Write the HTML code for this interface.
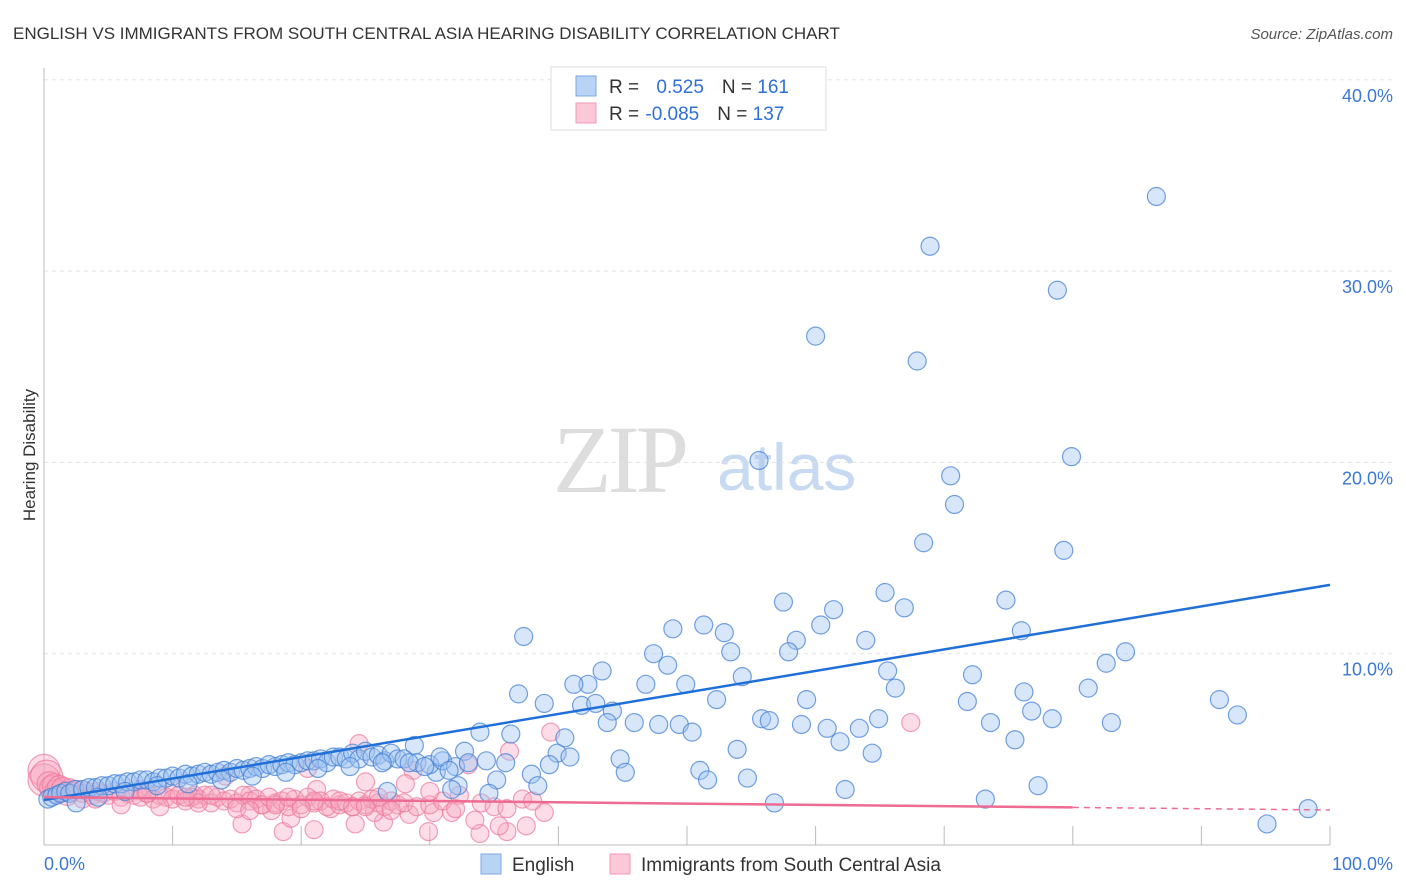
<!DOCTYPE html>
<html><head><meta charset="utf-8">
<style>
body{margin:0;background:#fff;font-family:"Liberation Sans",sans-serif;}
svg{display:block}
</style></head>
<body>
<svg id="chart" width="1406" height="892" xmlns="http://www.w3.org/2000/svg">
<text x="13" y="39" font-size="17" fill="#333">ENGLISH VS IMMIGRANTS FROM SOUTH CENTRAL ASIA HEARING DISABILITY CORRELATION CHART</text>
<text x="1393" y="39" font-size="15" fill="#555" font-style="italic" text-anchor="end">Source: ZipAtlas.com</text>
<g>
<text x="553" y="492" font-size="96" fill="#ddd" font-family="Liberation Serif,serif" letter-spacing="-4">ZIP</text>
<text x="717" y="490" font-size="66" fill="#c8daf2">atlas</text>
</g>
<g id="grid"></g>
<g id="axes"></g>
<g id="pink"></g>
<g id="blue"></g>
<g id="lines"></g>
<text x="35" y="455" font-size="17" fill="#333" transform="rotate(-90 35 455)" text-anchor="middle">Hearing Disability</text>
<g>
<rect x="551" y="67" width="275" height="63" fill="#fff" stroke="#ddd"/>
<rect x="576" y="76" width="20" height="20" fill="#b9d3f5" stroke="#7ba7e3"/>
<rect x="576" y="103" width="20" height="20" fill="#fac8d7" stroke="#f09ab4"/>
<text x="609" y="93" font-size="19" fill="#333">R = <tspan fill="#2f6fd6" dx="12">0.525</tspan><tspan dx="18">N = </tspan><tspan fill="#2f6fd6">161</tspan></text>
<text x="609" y="120" font-size="19" fill="#333">R = <tspan fill="#2f6fd6" dx="1">-0.085</tspan><tspan dx="18">N = </tspan><tspan fill="#2f6fd6">137</tspan></text>
</g>
<g>
<rect x="481" y="854" width="20" height="20" fill="#b9d3f5" stroke="#7ba7e3"/>
<text x="512" y="871" font-size="19" fill="#333">English</text>
<rect x="610" y="854" width="20" height="20" fill="#fac8d7" stroke="#f09ab4"/>
<text x="641" y="871" font-size="19" fill="#333">Immigrants from South Central Asia</text>
</g>
</svg>
<script>
const yTicks=[10,20,30,40];
const yTickLabels=["10.0%","20.0%","30.0%","40.0%"];
const xTicks=[10,20,30,40,50,60,70,80,90,100];
const blueX=[86.5,68.9,78.8,60.0,67.9,55.6,79.9,70.5,70.8,68.4,79.3,37.3,57.5,65.4,74.8,61.4,66.9,48.9,51.3,52.9,60.4,58.5,63.9,76.0,47.4,53.4,57.9,84.1,82.6,43.4,48.5,65.6,72.2,42.3,41.2,46.8,49.9,54.3,66.2,81.2,76.2,36.9,38.9,41.8,42.9,52.3,59.3,71.8,91.4,92.8,44.2,76.8,43.8,45.9,47.8,49.4,55.8,56.4,58.9,64.9,73.6,78.4,83.0,60.9,63.4,50.4,33.9,36.3,40.5,61.9,75.5,53.9,64.4,44.8,39.9,40.9,32.7,28.8,34.4,35.9,39.3,51.0,45.2,37.9,35.2,51.6,54.7,77.3,38.4,32.2,30.5,34.6,31.7,62.3,26.7,56.8,73.2,98.3,95.1,
0.3,0.6,1,1.3,1.7,2,2.4,3,3.5,4,4.5,5,5.5,6,6.5,7,7.5,8,8.5,9,9.5,10,10.5,11,11.5,12,12.5,13,13.5,14,14.5,15,15.5,16,16.5,17,17.5,18,18.5,19,19.5,20,20.5,21,21.5,22,22.5,23,23.5,24,24.5,25,25.5,26,26.5,27,27.5,28,29,30,31,32,33,2.5,4.2,6.3,8.8,11.2,13.8,16.2,18.8,21.3,23.8,26.3,28.4,30.8,29.6,31.5];
const blueY=[33.9,31.3,29.0,26.6,25.3,20.1,20.3,19.3,17.8,15.8,15.4,10.9,12.7,13.2,12.8,12.3,12.4,11.3,11.5,11.1,11.5,10.7,10.7,11.2,10.0,10.1,10.1,10.1,9.5,9.1,9.4,9.1,8.9,8.4,8.4,8.4,8.4,8.8,8.2,8.2,8.0,7.9,7.4,7.3,7.4,7.6,7.6,7.5,7.6,6.8,7.0,7.0,6.4,6.4,6.3,6.3,6.6,6.5,6.3,6.6,6.4,6.6,6.4,6.1,6.1,5.9,5.9,5.8,5.6,5.4,5.5,5.0,4.8,4.5,4.8,4.6,4.9,5.2,4.4,4.3,4.2,3.9,3.8,3.7,3.4,3.4,3.5,3.1,3.1,3.1,3.8,2.7,2.9,2.9,2.8,2.2,2.4,1.9,1.1,
2.4,2.5,2.6,2.7,2.8,2.7,2.9,2.9,3.0,3.0,3.1,3.1,3.2,3.2,3.3,3.3,3.4,3.4,3.3,3.5,3.5,3.6,3.5,3.7,3.6,3.7,3.8,3.7,3.8,3.9,3.8,4.0,3.9,4.0,4.1,4.0,4.2,4.1,4.2,4.3,4.2,4.3,4.4,4.4,4.5,4.3,4.6,4.6,4.5,4.8,4.5,4.9,4.6,4.7,4.4,4.8,4.5,4.5,4.3,4.2,4.4,4.1,4.3,2.2,2.5,2.8,3.1,3.2,3.4,3.6,3.8,4.0,4.1,4.3,4.3,4.6,4.1,3.9];
const pinkX=[24.5,67.4,39.4,36.2,33.0,28.7,20.5,14.1,25.0,28.1,37.2,33.9,36.0,33.5,35.4,37.5,38.9,30.3,29.9,26.4,24.2,21.0,18.6,15.4,19.2,31.7,28.4,25.7,22.3,17.7,16.9,21.2,16.0,11.7,10.1,7.5,32.3,
0,0,0.2,0.4,0.6,0.8,1,1.2,1.5,1.8,2,2.3,2.6,3,3.4,3.8,4.2,4.6,5,5.5,6,6.5,7,7.5,8,8.5,9,9.5,10,10.5,11,11.5,12,12.5,13,13.5,14,14.5,15,15.5,16,16.5,17,17.5,18,18.5,19,19.5,20,20.5,21,21.5,22,22.5,23,23.5,24,24.5,25,25.5,26,26.5,27,27.5,28,29,30,31,32,34,35,36,38,
3,6,9,12,15,18,21,24,27,30,8,13,19,23,26,4,11,16,20,25];
const pinkY=[5.3,6.4,5.9,4.9,4.2,3.9,4.0,3.6,3.3,3.2,2.4,0.6,0.7,1.3,1.0,1.0,1.7,1.7,0.7,1.2,1.1,0.8,0.7,1.1,1.4,1.7,1.6,1.7,1.9,1.8,2.1,2.9,2.6,2.6,2.9,2.9,2.6,
3.9,3.4,3.6,3.2,3.0,3.1,2.8,3.0,2.9,2.7,3.0,2.8,2.9,2.7,2.8,2.6,2.8,2.7,2.6,2.8,2.5,2.7,2.6,2.5,2.7,2.4,2.6,2.5,2.4,2.6,2.3,2.5,2.4,2.6,2.2,2.5,2.3,2.4,2.2,2.6,2.3,2.4,2.1,2.5,2.2,2.3,2.0,2.4,2.1,2.5,2.2,2.3,2.0,2.4,2.1,2.2,2.0,2.3,2.1,2.4,2.2,2.0,2.3,2.1,2.2,2.0,2.1,2.3,1.9,2.2,2.0,1.9,
2.3,2.4,2.1,2.0,2.2,1.9,2.1,2.3,2.0,1.8,2.8,2.7,2.6,2.5,2.3,2.5,2.4,2.5,1.8,1.9,2.0];
const blueTrend=[2.35,13.6];
const pinkTrend=[2.5,1.83];
const pinkSolidEnd=80;

const NS="http://www.w3.org/2000/svg";
const X0=44,X1=1330,Y0=845,PY=19.13;
function sx(v){return X0+(X1-X0)*v/100;}
function sy(v){return Y0-v*PY;}
function mk(t,attrs,parent){const e=document.createElementNS(NS,t);for(const k in attrs)e.setAttribute(k,attrs[k]);parent.appendChild(e);return e;}
const grid=document.getElementById('grid'),axes=document.getElementById('axes');
yTicks.forEach((t,i)=>{
  const l=mk('line',{x1:X0,x2:1393,y1:sy(t),y2:sy(t),stroke:'#e2e2e2','stroke-dasharray':'4,4'},grid);
  
  
  const tx=mk('text',{x:1393,y:sy(t)+22,'font-size':18,fill:'#3b78d8','text-anchor':'end'},axes);
  tx.textContent=yTickLabels[i];
  
  
});
mk('line',{x1:X0,x2:X0,y1:68,y2:Y0,stroke:'#bbb'},axes);
mk('line',{x1:X0,x2:X1,y1:Y0,y2:Y0,stroke:'#bbb'},axes);
xTicks.forEach(t=>{const l=mk('line',{x1:sx(t),x2:sx(t),y1:826,y2:Y0,stroke:'#bbb'},axes);
  
  });
const xl0=mk('text',{x:44,y:870,'font-size':18,fill:'#3b78d8'},axes);xl0.textContent='0.0%';


const xl1=mk('text',{x:1393,y:870,'font-size':18,fill:'#3b78d8','text-anchor':'end'},axes);xl1.textContent='100.0%';


const pg=document.getElementById('pink');
const pn=Math.min(pinkX.length,pinkY.length);
for(let i=0;i<pn;i++){const x=pinkX[i];const r=(x<0.3)?16:(x<2?12:9);
  const c=mk('circle',{cx:sx(x),cy:sy(pinkY[i]),r:r,fill:'rgba(247,165,192,0.38)',stroke:'rgba(236,120,155,0.7)','stroke-width':1.2},pg);
  
  }
const bg=document.getElementById('blue');
const bn=Math.min(blueX.length,blueY.length);
for(let i=0;i<bn;i++){
  const c=mk('circle',{cx:sx(blueX[i]),cy:sy(blueY[i]),r:9,fill:'rgba(160,195,240,0.42)',stroke:'rgba(70,130,215,0.75)','stroke-width':1.2},bg);
  
  }
const lg=document.getElementById('lines');
const bl=mk('line',{x1:sx(0),y1:sy(blueTrend[0]),x2:sx(100),y2:sy(blueTrend[1]),stroke:'#1f6fd8','stroke-width':2.5},lg);


const pm=pinkTrend[0]+(pinkTrend[1]-pinkTrend[0])*pinkSolidEnd/100;
const pl=mk('line',{x1:sx(0),y1:sy(pinkTrend[0]),x2:sx(pinkSolidEnd),y2:sy(pm),stroke:'#ee6b93','stroke-width':2.5},lg);


const pd=mk('line',{x1:sx(pinkSolidEnd),y1:sy(pm),x2:sx(100),y2:sy(pinkTrend[1]),stroke:'#ee6b93','stroke-width':1.5,'stroke-dasharray':'6,5'},lg);


</script>
</body></html>
